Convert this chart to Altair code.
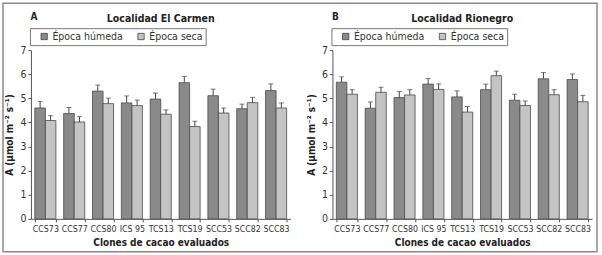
import altair as alt
import pandas as pd

clones = ["CCS73", "CCS77", "CCS80", "ICS 95", "TCS13", "TCS19", "SCC53", "SCC82", "SCC83"]
epocas = ["Época húmeda", "Época seca"]

carmen_humeda = [4.60, 4.37, 5.30, 4.81, 4.97, 5.65, 5.11, 4.57, 5.32]
carmen_humeda_err = [0.27, 0.25, 0.25, 0.29, 0.25, 0.26, 0.27, 0.19, 0.28]
carmen_seca = [4.08, 4.02, 4.78, 4.70, 4.34, 3.83, 4.39, 4.82, 4.60]
carmen_seca_err = [0.20, 0.22, 0.23, 0.23, 0.18, 0.22, 0.21, 0.22, 0.21]

rionegro_humeda = [5.67, 4.59, 5.03, 5.59, 5.06, 5.36, 4.92, 5.81, 5.78]
rionegro_humeda_err = [0.22, 0.26, 0.25, 0.23, 0.25, 0.23, 0.25, 0.26, 0.23]
rionegro_seca = [5.17, 5.25, 5.14, 5.37, 4.43, 5.94, 4.70, 5.15, 4.86]
rionegro_seca_err = [0.19, 0.21, 0.22, 0.23, 0.23, 0.19, 0.19, 0.21, 0.26]

panel_letters = ["A", "B"]
panel_titles = ["Localidad El Carmen", "Localidad Rionegro"]
y_title = "A (µmol m⁻² s⁻¹)"
x_title = "Clones de cacao evaluados"
y_ticks = [0, 1, 2, 3, 4, 5, 6, 7]

colors = ["#8a8a8a", "#c4c4c4"]
FONT = "DejaVu Sans Condensed, Roboto Condensed, Liberation Sans Narrow, Liberation Sans, sans-serif"
W, H = 260, 169


def make_df(hum, hum_err, sec, sec_err):
    rows = []
    for c, v, e in zip(clones, hum, hum_err):
        rows.append({"clon": c, "epoca": epocas[0], "valor": v, "top": v + e})
    for c, v, e in zip(clones, sec, sec_err):
        rows.append({"clon": c, "epoca": epocas[1], "valor": v, "top": v + e})
    return pd.DataFrame(rows)


def panel(df, letter, title, frame=False):
    base = alt.Chart(df)
    x = alt.X("clon:N", sort=clones,
              scale=alt.Scale(domain=clones, paddingInner=0.27, paddingOuter=0.135),
              axis=alt.Axis(title=x_title, labelAngle=0, tickBand="extent",
                            tickSize=3, labelFontSize=8.8, labelPadding=3, labelOverlap=False,
                            titleFontSize=10, titleFontWeight="bold", titlePadding=4))
    xo = alt.XOffset("epoca:N", sort=epocas, scale=alt.Scale(domain=epocas))
    yaxis = alt.Axis(title=y_title, values=y_ticks, grid=False, tickSize=3,
                     labelFontSize=10.5, labelPadding=2, labelOverlap=False,
                     titleFontSize=10, titleFontWeight="bold", titlePadding=5)
    yscale = alt.Scale(domain=[0, 7], nice=False)
    y = alt.Y("valor:Q", scale=yscale, axis=yaxis)
    ytop = alt.Y("top:Q", scale=yscale, axis=yaxis)
    color = alt.Color("epoca:N", sort=epocas,
                      scale=alt.Scale(domain=epocas, range=colors),
                      legend=alt.Legend(title=None, orient="none", legendX=-1, legendY=-22,
                                        direction="horizontal", symbolType="square",
                                        symbolSize=40, symbolStrokeColor="#444",
                                        symbolStrokeWidth=0.8, symbolOffset=6,
                                        labelOffset=3, columnPadding=6,
                                        labelFontSize=10.5, labelFont=FONT,
                                        labelColor="#333", padding=3,
                                        strokeColor="#777", fillColor="white"))
    bars = base.mark_bar(stroke="#4a4a4a", strokeWidth=0.8).encode(
        x=x, xOffset=xo, y=y, color=color)
    rule = base.mark_rule(color="#444", strokeWidth=1).encode(
        x=x, xOffset=xo, y=y, y2="top:Q")
    cap = base.mark_tick(color="#444", thickness=1, size=5).encode(
        x=x, xOffset=xo, y=ytop)
    lab = pd.DataFrame({"t": [letter]})
    tt = pd.DataFrame({"t": [title]})
    letter_txt = alt.Chart(lab).mark_text(font=FONT, fontSize=10, fontWeight="bold",
                                          align="center", baseline="middle", color="#222").encode(
        text="t:N", x=alt.value(3), y=alt.value(-33))
    title_txt = alt.Chart(tt).mark_text(font=FONT, fontSize=10.5, fontWeight="bold",
                                        align="center", baseline="middle", color="#222").encode(
        text="t:N", x=alt.value(W / 2), y=alt.value(-31))
    layers = [bars, rule, cap, letter_txt, title_txt]
    if frame:
        fr = alt.Chart(pd.DataFrame({"f": [0]})).mark_rect(
            fillOpacity=0, stroke="#8a8a8a", strokeWidth=1.5).encode(
            x=alt.value(-330), x2=alt.value(265), y=alt.value(-47), y2=alt.value(202))
        layers.append(fr)
    return alt.layer(*layers).properties(width=W, height=H)


dfA = make_df(carmen_humeda, carmen_humeda_err, carmen_seca, carmen_seca_err)
dfB = make_df(rionegro_humeda, rionegro_humeda_err, rionegro_seca, rionegro_seca_err)

chart = alt.hconcat(
    panel(dfA, panel_letters[0], panel_titles[0]),
    panel(dfB, panel_letters[1], panel_titles[1], frame=True),
    spacing=42, bounds="flush"
).resolve_scale(color="independent").properties(
    padding={"left": 2, "top": 2, "right": 4, "bottom": 3},
    background="white"
).configure_view(stroke=None).configure_axis(
    domainColor="#555", tickColor="#555", labelColor="#333", titleColor="#222",
    labelFont=FONT, titleFont=FONT
)

chart.save("out.html", embed_options={"renderer": "svg", "actions": False})
